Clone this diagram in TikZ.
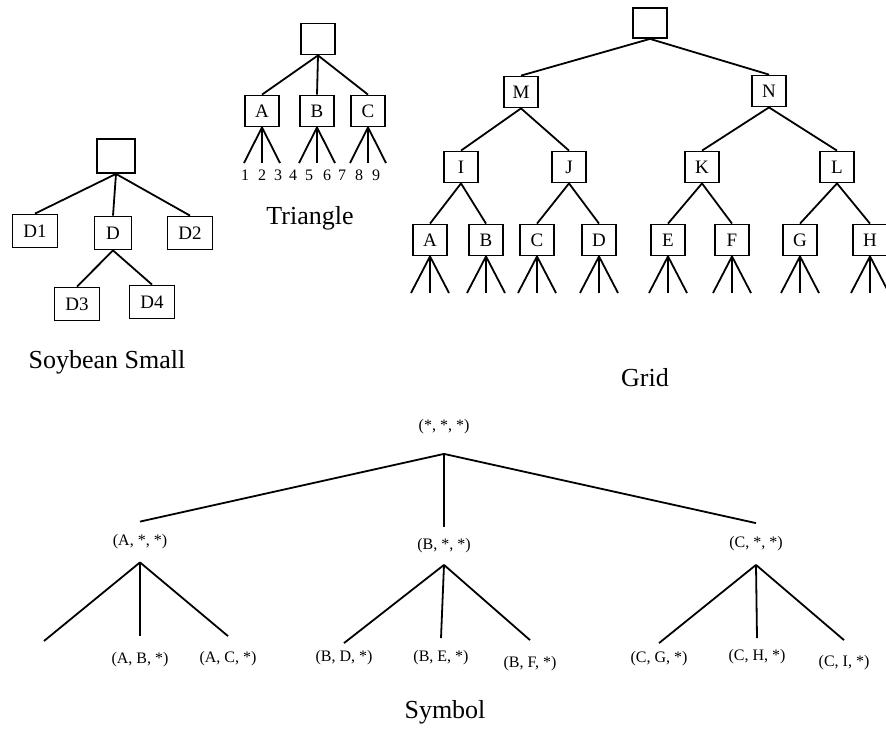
\documentclass[tikz,border=0pt]{standalone}
\usepackage{fontspec}
\setmainfont{Liberation Serif}

\begin{document}
\begin{tikzpicture}[x=1pt, y=-1pt, line width=1.8pt,
  box/.style={draw, minimum width=34pt, minimum height=31pt, inner sep=0pt,
    font=\fontsize{19}{21}\selectfont},
  wbox/.style={box, minimum width=45pt, minimum height=33pt},
  num/.style={inner sep=0pt, font=\fontsize{16}{18}\selectfont},
  lab/.style={inner sep=0pt, font=\fontsize{16}{18}\selectfont},
  title/.style={inner sep=0pt, font=\fontsize{26}{28}\selectfont}]

  \useasboundingbox (0,0) rectangle (886,731);
  \clip (0,0) rectangle (886,731);

  % Soybean Small
  \node[box, minimum width=38pt, minimum height=34pt] (sroot) at (116,156) {};
  \node[wbox] (d1) at (35,231) {D1};
  \node[box, minimum width=37pt, minimum height=33pt] (d) at (113,233) {D};
  \node[wbox] (d2) at (190,233) {D2};
  \node[wbox] (d3) at (77,304) {D3};
  \node[wbox] (d4) at (152,302) {D4};
  \draw (sroot.south) -- (d1.north);
  \draw (sroot.south) -- (d.north);
  \draw (sroot.south) -- (d2.north);
  \draw (d.south) -- (d3.north);
  \draw (d.south) -- (d4.north);
  \node[title] (soytitle) at (107,362) {Soybean Small};

  % Triangle
  \node[box] (troot) at (318,39) {};
  \node[box] (ta) at (262,111) {A};
  \node[box] (tb) at (317,111) {B};
  \node[box] (tc) at (368,111) {C};
  \foreach \c in {ta,tb,tc}{
    \draw (troot.south) -- (\c.north);
    \foreach \dx [count=\k] in {-18,0,18}{
      \coordinate (\c\k) at ([xshift=\dx pt]\c.south |- 0,163);
      \draw (\c.south) -- (\c\k);
    }
  }
  \foreach \n/\x in {1/245, 2/262, 3/278, 4/293, 5/309, 6/327, 7/342, 8/359, 9/376}
    \node[num] (t\n) at (\x,175) {\n};
  \node[title] (trititle) at (310,218) {Triangle};

  % Grid
  \node[box, minimum height=30pt] (groot) at (650,23) {};
  \node[box] (gm) at (521,92) {M};
  \node[box] (gn) at (769,91) {N};
  \node[box] (gi) at (461,167) {I};
  \node[box] (gj) at (569,167) {J};
  \node[box] (gk) at (702,167) {K};
  \node[box] (gl) at (837,167) {L};
  \draw (groot.south) -- (gm.north);
  \draw (groot.south) -- (gn.north);
  \draw (gm.south) -- (gi.north);
  \draw (gm.south) -- (gj.north);
  \draw (gn.south) -- (gk.north);
  \draw (gn.south) -- (gl.north);
  \foreach \l/\x/\p in {A/430/gi, B/486/gi, C/537/gj, D/599/gj,
      E/668/gk, F/732/gk, G/800/gl, H/870/gl}{
    \node[box] (g\l) at (\x,240) {\l};
    \draw (\p.south) -- (g\l.north);
    \foreach \dx [count=\k] in {-19,0,19}{
      \coordinate (g\l\k) at (\x+\dx,293);
      \draw (g\l.south) -- (g\l\k);
    }
  }
  \node[title] (gridtitle) at (645,378) {Grid};

  % Symbol
  \node[lab, minimum height=52pt] (s0) at (444,427) {(*, *, *)};
  \node[lab, minimum height=39pt] (sa) at (140,542) {(A, *, *)};
  \node[lab, minimum height=36pt] (sb) at (444,546) {(B, *, *)};
  \node[lab, minimum height=40pt] (sc) at (756,544) {(C, *, *)};
  \draw (s0.south) -- (sa.north);
  \draw (s0.south) -- (sb.north);
  \draw (s0.south) -- (sc.north);
  \coordinate (saa) at (44,641);
  \node[lab, minimum height=46pt] (sab) at (140,660) {(A, B, *)};
  \node[lab, minimum height=44pt] (sac) at (228,659) {(A, C, *)};
  \node[lab, minimum height=28pt] (sbd) at (344,658) {(B, D, *)};
  \node[lab, minimum height=38pt] (sbe) at (441,658) {(B, E, *)};
  \node[lab, minimum height=46pt] (sbf) at (530,664) {(B, F, *)};
  \node[lab, minimum height=30pt] (scg) at (659,659) {(C, G, *)};
  \node[lab, minimum height=36pt] (sch) at (757,657) {(C, H, *)};
  \node[lab, minimum height=44pt] (sci) at (844,663) {(C, I, *)};
  \draw (sa.south) -- (saa);
  \draw (sa.south) -- (sab.north);
  \draw (sa.south) -- (sac.north);
  \draw (sb.south) -- (sbd.north);
  \draw (sb.south) -- (sbe.north);
  \draw (sb.south) -- (sbf.north);
  \draw (sc.south) -- (scg.north);
  \draw (sc.south) -- (sch.north);
  \draw (sc.south) -- (sci.north);
  \node[title] (symtitle) at (445,712) {Symbol};

\end{tikzpicture}
\end{document}
